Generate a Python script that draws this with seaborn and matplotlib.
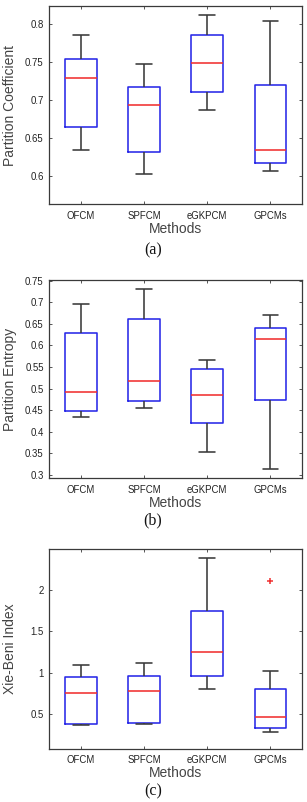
import numpy as np
import pandas as pd
import matplotlib
matplotlib.use("Agg")
import matplotlib.pyplot as plt
import seaborn as sns

# ---------------- data (five-number summaries) ----------------
METHODS = ["OFCM", "SPFCM", "eGKPCM", "GPCMs"]

# (a) Partition Coefficient
PC_LOW = [0.6335, 0.6026, 0.6863, 0.6066]
PC_Q1 = [0.664, 0.6313, 0.7101, 0.6163]
PC_MED = [0.7295, 0.6938, 0.7485, 0.6344]
PC_Q3 = [0.754, 0.7172, 0.786, 0.7194]
PC_HIGH = [0.786, 0.7471, 0.8119, 0.804]

# (b) Partition Entropy
PE_LOW = [0.4335, 0.456, 0.354, 0.313]
PE_Q1 = [0.449, 0.472, 0.421, 0.4744]
PE_MED = [0.4914, 0.517, 0.485, 0.615]
PE_Q3 = [0.628, 0.661, 0.546, 0.6396]
PE_HIGH = [0.6967, 0.732, 0.567, 0.6705]

# (c) Xie-Beni Index
XB_LOW = [0.367, 0.375, 0.806, 0.283]
XB_Q1 = [0.379, 0.387, 0.962, 0.327]
XB_MED = [0.757, 0.773, 1.248, 0.460]
XB_Q3 = [0.942, 0.962, 1.743, 0.802]
XB_HIGH = [1.091, 1.115, 2.378, 1.023]
XB_OUTLIER_METHOD = ["GPCMs"]
XB_OUTLIER_VALUE = [2.105]

PC_TICKS = [0.6, 0.65, 0.7, 0.75, 0.8]
PC_TICKLABELS = ["0.6", "0.65", "0.7", "0.75", "0.8"]
PE_TICKS = [0.3, 0.35, 0.4, 0.45, 0.5, 0.55, 0.6, 0.65, 0.7, 0.75]
PE_TICKLABELS = ["0.3", "0.35", "0.4", "0.45", "0.5", "0.55", "0.6", "0.65", "0.7", "0.75"]
XB_TICKS = [0.5, 1.0, 1.5, 2.0]
XB_TICKLABELS = ["0.5", "1", "1.5", "2"]

YLABELS = ["Partition Coefficient", "Partition Entropy", "Xie-Beni Index"]
CAPTIONS = ["(a)", "(b)", "(c)"]
XLABEL = "Methods"

# ---------------- style ----------------
sns.set_theme(style="white")
plt.rcParams["font.family"] = ["Liberation Sans", "DejaVu Sans"]
plt.rcParams["axes.edgecolor"] = "#3a3a3a"
plt.rcParams["axes.linewidth"] = 0.9

BOX_C = "#2828e8"
MED_C = "#f03030"
WHISK_C = "#3a3a3a"


def long_frame(low, q1, med, q3, high):
    rows = []
    for i, m in enumerate(METHODS):
        for v in (low[i], q1[i], med[i], q3[i], high[i]):
            rows.append({"Method": m, "Value": v})
    return pd.DataFrame(rows)


panels = [
    (long_frame(PC_LOW, PC_Q1, PC_MED, PC_Q3, PC_HIGH), PC_TICKS, PC_TICKLABELS, (0.562, 0.824)),
    (long_frame(PE_LOW, PE_Q1, PE_MED, PE_Q3, PE_HIGH), PE_TICKS, PE_TICKLABELS, (0.292, 0.7525)),
    (long_frame(XB_LOW, XB_Q1, XB_MED, XB_Q3, XB_HIGH), XB_TICKS, XB_TICKLABELS, (0.081, 2.487)),
]

W, H = 307, 802
fig = plt.figure(figsize=(W / 100, H / 100), dpi=100)

# axes boxes in pixels: (left, top, right, bottom)
boxes_px = [(49.3, 6.0, 302.0, 204.3), (49.3, 279.7, 302.0, 478.3), (49.3, 549.3, 302.0, 748.7)]
caption_y_px = [250, 520, 791]

for k, ((df, ticks, ticklabels, ylim), (l, t, r, b)) in enumerate(zip(panels, boxes_px)):
    ax = fig.add_axes([l / W, 1 - b / H, (r - l) / W, (b - t) / H])
    sns.boxplot(
        data=df, x="Method", y="Value", order=METHODS, ax=ax,
        width=0.5, whis=(0, 100), showfliers=False, fill=False,
        linewidth=1.15,
        boxprops={"color": BOX_C, "linewidth": 1.15},
        medianprops={"color": MED_C, "linewidth": 1.15},
        whiskerprops={"color": WHISK_C, "linewidth": 1.15},
        capprops={"color": WHISK_C, "linewidth": 1.15},
    )
    if k == 2:
        pos = [METHODS.index(m) for m in XB_OUTLIER_METHOD]
        ax.plot(pos, XB_OUTLIER_VALUE, linestyle="none", marker="+",
                color=MED_C, markersize=4, markeredgewidth=1.1)
    ax.set_xlim(-0.5, len(METHODS) - 0.5)
    ax.set_ylim(*ylim)
    ax.set_yticks(ticks)
    ax.set_yticklabels(ticklabels)
    ax.tick_params(axis="both", which="major", direction="in", length=2.5, width=0.7,
                   color="#555555", labelsize=6.9, labelcolor="#222222",
                   top=True, right=True, left=True, bottom=True)
    ax.tick_params(axis="x", pad=4.5)
    ax.tick_params(axis="y", pad=4.0)
    ax.set_xlabel(XLABEL, fontsize=10, color="#444444")
    ax.set_ylabel(YLABELS[k], fontsize=10, color="#444444")
    ax.xaxis.set_label_coords(0.5, -0.087)
    ax.yaxis.set_label_coords(-0.128, 0.5)
    for s in ax.spines.values():
        s.set_visible(True)
        s.set_color("#3a3a3a")
        s.set_linewidth(0.9)
    fig.text(153 / W, 1 - caption_y_px[k] / H, CAPTIONS[k], ha="center", va="center",
             fontsize=11.5, family=["Liberation Serif", "DejaVu Serif"], color="#111111")

fig.savefig("out.png", dpi=100)
